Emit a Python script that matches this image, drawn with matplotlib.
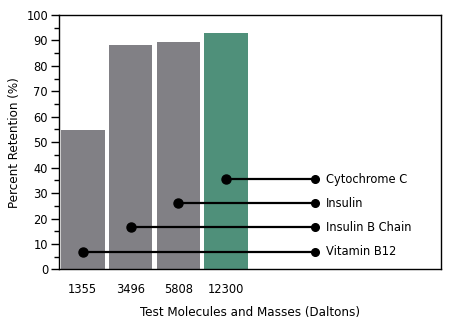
import matplotlib
matplotlib.use("Agg")
import matplotlib.pyplot as plt
from matplotlib.ticker import MultipleLocator

masses = ["1355", "3496", "5808", "12300"]
retention = [54.6, 88.0, 89.4, 93.1]
bar_colors = ["#818085", "#818085", "#818085", "#4f907a"]
molecules = ["Vitamin B12", "Insulin B Chain", "Insulin", "Cytochrome C"]
callout_y = [6.9, 16.5, 26.0, 35.4]

plt.rcParams['font.family'] = ['DejaVu Sans']
plt.rcParams['font.stretch'] = 'condensed'

fig = plt.figure(figsize=(4.5, 3.25), dpi=100)
ax = fig.add_axes([0.13, 0.171, 0.849, 0.783])

x = list(range(len(masses)))
ax.bar(x, retention, width=0.91, color=bar_colors, zorder=1)

right_x = 4.87
for i, (name, yv) in enumerate(zip(molecules, callout_y)):
    ax.plot([x[i], right_x], [yv, yv], color="black", lw=1.6, zorder=3)
    ax.plot([x[i]], [yv], "o", color="black", ms=6.5, zorder=4)
    ax.plot([right_x], [yv], "o", color="black", ms=5.5, zorder=4)
    ax.text(right_x + 0.22, yv, name, va="center", ha="left", fontsize=9.2)

ax.set_xlim(-0.51, 7.49)
ax.set_ylim(0, 100)
ax.set_xticks(x)
ax.set_xticklabels(masses, fontsize=9.2)
ax.tick_params(axis="x", length=0, pad=10)
ax.yaxis.set_major_locator(MultipleLocator(10))
ax.yaxis.set_minor_locator(MultipleLocator(5))
ax.tick_params(axis="y", which="major", length=6, width=1, labelsize=9.2, pad=1.5)
ax.tick_params(axis="y", which="minor", length=3.5, width=1)
for s in ax.spines.values():
    s.set_linewidth(1.0)
ax.set_xlabel("Test Molecules and Masses (Daltons)", fontsize=9.5, labelpad=7)
ax.set_ylabel("Percent Retention (%)", fontsize=9.5, labelpad=4)

fig.savefig("out.png", dpi=100)
